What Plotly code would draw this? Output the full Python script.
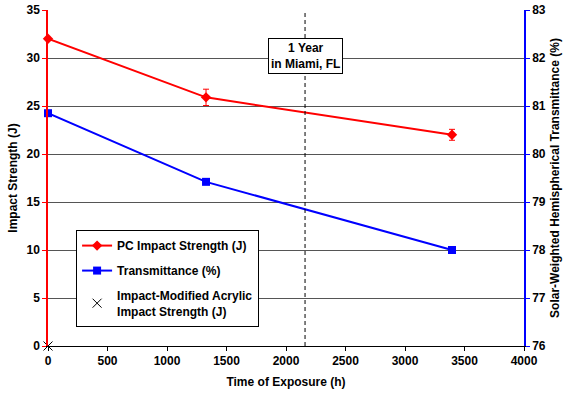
import plotly.graph_objects as go

# Exposure times (h) and measured properties
hours = [0, 1328, 3395]
pc_impact = [32.0, 25.9, 22.0]
pc_impact_err = [0.0, 0.85, 0.57]
transmittance = [80.85, 79.42, 78.0]
acrylic_hours = [0]
acrylic_impact = [0]

one_year_hours = 2160

FONT = "Liberation Sans, Arial, sans-serif"
RED = "#ff0000"
BLUE = "#0000ff"

fig = go.Figure()

fig.add_trace(go.Scatter(
    x=hours, y=pc_impact, name="PC Impact Strength (J)",
    mode="lines+markers",
    line=dict(color=RED, width=2),
    marker=dict(symbol="diamond", size=8, color=RED),
    error_y=dict(type="data", array=pc_impact_err, color=RED, thickness=1, width=3),
    legendgroup="a", cliponaxis=False,
))
fig.add_trace(go.Scatter(
    x=hours, y=transmittance, name="Transmittance (%)",
    mode="lines+markers", yaxis="y2",
    line=dict(color=BLUE, width=2),
    marker=dict(symbol="square", size=8, color=BLUE),
    legendgroup="b", cliponaxis=False,
))
fig.add_trace(go.Scatter(
    x=acrylic_hours, y=acrylic_impact,
    name="Impact-Modified Acrylic<br>Impact Strength (J)",
    mode="markers",
    marker=dict(symbol="x-thin", size=9, color="black", line=dict(color="black", width=1)),
    legendgroup="c", cliponaxis=False,
))

# One-year marker
fig.add_shape(type="line", xref="x", yref="paper",
              x0=one_year_hours, x1=one_year_hours, y0=0, y1=1,
              line=dict(color="black", width=1, dash="4px,3px"))
fig.add_annotation(x=one_year_hours, y=30.2, xref="x", yref="y",
                   text="1 Year<br>in Miami, FL", showarrow=False,
                   font=dict(family=FONT, size=12, color="black", weight="bold"),
                   bgcolor="white", bordercolor="black", borderwidth=1, borderpad=2)

tick_font = dict(family=FONT, size=12, color="black", weight="bold")
title_font = dict(family=FONT, size=12, color="black", weight="bold")

fig.update_layout(
    width=564, height=394,
    margin=dict(l=48, r=40, t=10, b=48, autoexpand=False),
    paper_bgcolor="white", plot_bgcolor="white",
    font=dict(family=FONT, size=12, color="black"),
    showlegend=True,
    legend=dict(
        x=0.059, y=0.345, xanchor="left", yanchor="top",
        bgcolor="white", bordercolor="black", borderwidth=1,
        font=dict(family=FONT, size=12, color="black", weight="bold"),
        tracegroupgap=6, itemwidth=30,
    ),
    xaxis=dict(
        range=[0, 4000], dtick=500, showgrid=False, zeroline=False,
        showline=True, linecolor="black", linewidth=1,
        ticks="outside", ticklen=4, tickcolor="black",
        tickfont=tick_font, automargin=False,
        title=dict(text="Time of Exposure (h)", font=title_font, standoff=10),
    ),
    yaxis=dict(
        range=[0, 35], dtick=5, showgrid=True, gridcolor="#555555", gridwidth=1,
        zeroline=False, showline=True, linecolor=RED, linewidth=1.5,
        ticks="outside", ticklen=4, tickcolor=RED,
        tickfont=tick_font, automargin=False,
        title=dict(text="Impact Strength (J)", font=title_font, standoff=6),
    ),
    yaxis2=dict(
        range=[76, 83], dtick=1, overlaying="y", side="right",
        showgrid=False, zeroline=False, showline=True, linecolor=BLUE, linewidth=1.5,
        ticks="outside", ticklen=4, tickcolor=BLUE,
        tickfont=tick_font, automargin=False,
        title=dict(text="Solar-Weighted Hemispherical Transmittance (%)", font=title_font, standoff=6),
    ),
)

fig.write_html("out.html")
